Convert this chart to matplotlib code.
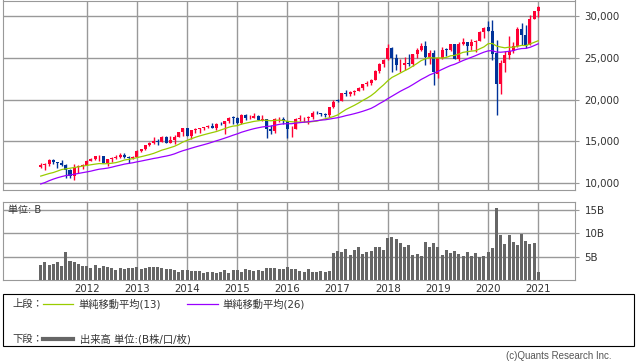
import numpy as np
import pandas as pd
import matplotlib
matplotlib.use("Agg")
import matplotlib.pyplot as plt
from matplotlib.patches import Rectangle
from matplotlib.lines import Line2D
from matplotlib.ticker import FuncFormatter

plt.rcParams['font.family'] = ['DejaVu Sans', 'Noto Sans CJK JP']

# monthly candles, Feb 2011 - Jan 2021
opens = [11892, 12226, 12320, 12811, 12570, 12414, 12143, 11614, 10913, 11955, 12046,
         12218, 12633, 12952, 13212, 13214, 12393, 12880, 13009, 13091, 13437, 13096, 13026,
         13104, 13861, 14054, 14579, 14840, 15116, 14910, 15500, 14810, 15130, 15546, 16086,
         16577, 15699, 16322, 16458, 16581, 16717, 16827, 16563, 17098, 17043, 17391, 17828,
         17823, 17165, 18133, 17776, 17841, 18011, 17620, 17690, 16528, 16285, 17664, 17720,
         17425, 16466, 16517, 17685, 17774, 17787, 17930, 18432, 18401, 18308, 18142, 19124,
         19872, 19864, 20812, 20663, 20941, 21009, 21350, 21891, 21948, 22405, 23377, 24272,
         24809, 26149, 25029, 24103, 24163, 24416, 24271, 25415, 25965, 26458, 25116, 25538,
         23058, 24999, 26019, 25929, 26593, 24815, 26600, 26864, 26403, 26917, 27046, 28051,
         28638, 28256, 25590, 21917, 24346, 25383, 25813, 26428, 28430, 27782, 26502, 29639,
         30627]
highs = [12391, 12419, 12876, 12929, 12570, 12753, 12285, 11717, 12284, 12188, 12360,
         12842, 13055, 13290, 13338, 13280, 12899, 13133, 13331, 13653, 13662, 13290, 13312,
         13970, 14150, 14585, 14888, 15542, 15340, 15658, 15648, 15710, 15722, 16174, 16588,
         16588, 16398, 16588, 16632, 16736, 16978, 17151, 17153, 17350, 17395, 17895, 18103,
         17951, 18244, 18289, 18175, 18351, 18180, 18137, 17712, 16934, 17799, 17977, 17888,
         17425, 16795, 17780, 18167, 17934, 18016, 18622, 18668, 18450, 18399, 19152, 19987,
         20125, 20851, 21169, 21070, 21112, 21535, 21929, 22179, 22420, 23485, 24327, 24876,
         26617, 26307, 25449, 24858, 25087, 25402, 25462, 26167, 26769, 26952, 25980, 25980,
         25075, 26241, 26155, 26696, 26668, 26907, 27399, 26864, 27306, 27122, 28175, 28702,
         29374, 29569, 27102, 24765, 25759, 27580, 26895, 28662, 29199, 28958, 30116, 30637,
         31193]
lows = [11855, 11555, 12093, 12310, 11862, 12091, 10604, 10597, 10404, 11231, 11766,
        12218, 12623, 12755, 12710, 12392, 12035, 12492, 12874, 13036, 13036, 12471, 12884,
        13104, 13749, 13937, 14434, 14700, 14551, 14910, 14761, 14777, 14719, 15546, 15703,
        15699, 15340, 16015, 16015, 16334, 16659, 16563, 16334, 16945, 15855, 17266, 17067,
        17136, 17038, 17585, 17664, 17837, 17595, 17399, 15370, 15942, 16013, 17320, 17138,
        15450, 15503, 16460, 17484, 17331, 17063, 17713, 18286, 17993, 17959, 17884, 19051,
        19678, 19831, 20413, 20379, 20554, 20994, 21197, 21600, 21709, 22405, 23243, 23922,
        24741, 23360, 23509, 23344, 23532, 23998, 24077, 24965, 25786, 24123, 24268, 21713,
        22638, 24883, 25208, 25868, 24812, 24680, 26566, 25339, 25979, 25743, 27046, 27325,
        28169, 24681, 18214, 20735, 23361, 24844, 25523, 26314, 26537, 26144, 26502, 29599,
        29881]
closes = [12226, 12320, 12811, 12570, 12414, 12143, 11614, 10913, 11955, 12046, 12218,
          12633, 12952, 13212, 13214, 12393, 12880, 13009, 13091, 13437, 13096, 13026, 13104,
          13861, 14054, 14579, 14840, 15116, 14910, 15500, 14810, 15130, 15546, 16086, 16577,
          15699, 16322, 16458, 16581, 16717, 16827, 16563, 17098, 17043, 17391, 17828, 17823,
          17165, 18133, 17776, 17841, 18011, 17620, 17690, 16528, 16285, 17664, 17720, 17425,
          16466, 16517, 17685, 17774, 17787, 17930, 18432, 18401, 18308, 18142, 19124, 19763,
          19864, 20812, 20663, 20941, 21009, 21350, 21891, 21948, 22405, 23377, 24272, 24719,
          26149, 25029, 24103, 24163, 24416, 24271, 25415, 25965, 26458, 25116, 25538, 23327,
          24999, 25916, 25929, 26593, 24815, 26600, 26864, 26403, 26917, 27046, 28051, 28538,
          28256, 25409, 21917, 24346, 25383, 25813, 26428, 28430, 27782, 26502, 29639, 30606,
          31098]
# closes of the 25 months before the first candle (needed for the moving averages)
prior_closes = [8001, 7063, 7609, 8168, 8500, 8447, 9172, 9496, 9712, 9713, 10345, 10428,
                10067, 10325, 10857, 11009, 10137, 9774, 10466, 10015, 10788, 11118, 11006, 11578,
                11892]
# volume, unit B
volume = [3.2, 3.8, 3.2, 3.4, 3.8, 3.0, 6.1, 4.2, 3.8, 3.4, 3.0,
          3.0, 2.6, 3.2, 2.6, 3.0, 2.8, 2.6, 2.2, 2.6, 2.4, 2.6, 2.6,
          2.8, 2.4, 2.6, 2.8, 2.8, 2.8, 2.6, 2.4, 2.4, 2.2, 1.7, 2.2,
          2.2, 1.9, 1.9, 1.9, 1.5, 1.7, 1.7, 1.5, 1.7, 2.2, 1.5, 2.2,
          2.2, 1.7, 2.4, 2.2, 1.9, 2.2, 1.9, 2.6, 2.6, 2.6, 2.4, 2.4,
          2.8, 2.4, 2.4, 1.9, 1.7, 2.4, 1.7, 1.7, 1.9, 1.7, 1.9, 5.9,
          6.3, 6.1, 6.7, 5.3, 6.5, 7.1, 5.5, 6.1, 6.3, 7.1, 7.1, 6.5,
          9.0, 9.2, 8.8, 8.0, 7.1, 7.4, 5.3, 5.5, 5.1, 8.2, 7.1, 8.0,
          7.1, 5.3, 6.5, 5.7, 6.3, 5.5, 5.1, 6.1, 5.1, 5.7, 4.9, 5.1,
          6.1, 6.9, 15.3, 9.7, 7.8, 9.7, 8.2, 7.4, 9.9, 8.4, 7.8, 8.0,
          1.7]
years = ['2012', '2013', '2014', '2015', '2016', '2017', '2018', '2019', '2020', '2021']
year_pos = [11, 23, 35, 47, 59, 71, 83, 95, 107, 119]  # January of each year

o = np.array(opens); h = np.array(highs); l = np.array(lows); c = np.array(closes)
x = np.arange(len(c))
allc = pd.Series(prior_closes + closes)
ma13 = allc.rolling(13).mean().values[len(prior_closes):]
ma26 = allc.rolling(26).mean().values[len(prior_closes):]

RED = '#ff0033'
BLUE = '#003399'
GRID = '#999999'
TXT = '#333333'

W, H = 638, 362
fig = plt.figure(figsize=(W / 100, H / 100), dpi=100)

def box(l_px, t_px, r_px, b_px):
    return [l_px / W, 1 - b_px / H, (r_px - l_px) / W, (b_px - t_px) / H]

xmin, xmax = -8.95, 127.7

# --- price panel
ax = fig.add_axes(box(3.3, 0.5, 574.7, 190))
cols = np.where(c >= o, RED, BLUE)
ax.vlines(x, l, h, colors=cols, lw=1.0, zorder=3)
ax.bar(x, np.maximum(np.abs(c - o), 60), bottom=np.minimum(o, c), width=0.72,
       color=cols, lw=0, zorder=3)
ax.plot(x, ma13, color='#99cc00', lw=0.9, zorder=4)
ax.plot(x, ma26, color='#9900ff', lw=0.9, zorder=4)
ax.set_xlim(xmin, xmax)
ax.set_ylim(9199, 31853)
ax.set_yticks([10000, 15000, 20000, 25000, 30000])
ax.yaxis.set_major_formatter(FuncFormatter(lambda v, p: f'{int(v):,}'))
ax.yaxis.tick_right()
ax.set_xticks(year_pos)
ax.set_xticklabels([])
ax.tick_params(axis='x', length=0)
ax.tick_params(axis='y', length=3, color=GRID, labelsize=7.4, labelcolor=TXT, pad=4)
ax.grid(color=GRID, lw=1.0, zorder=0)
ax.set_axisbelow(True)
for s in ax.spines.values():
    s.set_color(GRID)

# --- volume panel
av = fig.add_axes(box(3.3, 201.7, 574.7, 280.3))
av.bar(x, volume, width=0.72, color='#666666', lw=0, zorder=3)
av.set_xlim(xmin, xmax)
av.set_ylim(0, 16.7)
av.set_yticks([5, 10, 15])
av.set_yticklabels(['5B', '10B', '15B'])
av.yaxis.tick_right()
av.set_xticks(year_pos)
av.set_xticklabels(years)
av.tick_params(axis='x', length=0, labelsize=7.4, labelcolor=TXT, pad=3)
av.tick_params(axis='y', length=3, color=GRID, labelsize=7.4, labelcolor=TXT, pad=4)
av.grid(color=GRID, lw=1.0, zorder=0)
av.set_axisbelow(True)
for s in av.spines.values():
    s.set_color(GRID)
av.text(0.008, 0.89, '単位: B', transform=av.transAxes, fontsize=7.2, color=TXT,
        va='center', ha='left')

# --- legend box
fig.add_artist(Rectangle((3.3 / W, 1 - 345.7 / H), (634 - 3.3) / W, (345.7 - 294.3) / H,
                         transform=fig.transFigure, fill=False, ec='black', lw=0.8))
y1 = 1 - 304 / H
y2 = 1 - 339 / H
fig.text(12 / W, y1, '上段：', fontsize=7.4, color=TXT, va='center')
fig.add_artist(Line2D([43 / W, 73 / W], [y1, y1], color='#99cc00', lw=0.9))
fig.text(78 / W, y1, '単純移動平均(13)', fontsize=7.4, color=TXT, va='center')
fig.add_artist(Line2D([187 / W, 218 / W], [y1, y1], color='#9900ff', lw=0.9))
fig.text(222 / W, y1, '単純移動平均(26)', fontsize=7.4, color=TXT, va='center')
fig.text(12 / W, y2, '下段：', fontsize=7.4, color=TXT, va='center')
fig.add_artist(Line2D([43 / W, 73 / W], [y2, y2], color='#666666', lw=3))
fig.text(80 / W, y2, '出来高 単位:(B株/口/枚)', fontsize=7.4, color=TXT, va='center')

fig.text(611 / W, 1 - 356 / H, '(c)Quants Research Inc.', fontsize=7, color='#555555',
         ha='right', va='center', family=['Liberation Sans', 'DejaVu Sans'])

fig.savefig('out.png', dpi=100)
